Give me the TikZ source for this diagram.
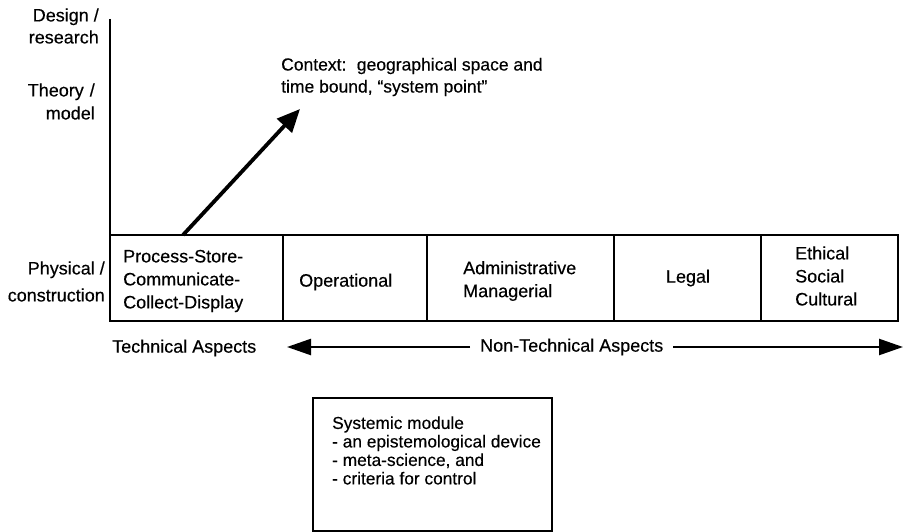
\documentclass[tikz,border=0pt]{standalone}
\usepackage{fontspec}
\setmainfont{Liberation Sans}[FakeBold=0.35]
\usetikzlibrary{arrows.meta}
\begin{document}
\begin{tikzpicture}[x=1pt,y=-1pt,
  txt/.style={font=\fontsize{18}{23}\selectfont, inner sep=0pt, align=left},
  cell/.style={draw, line width=2.4pt, inner sep=0pt, outer sep=0pt, minimum height=86pt, anchor=north west},
  thick arrow/.style={line width=3.8pt, -{Triangle[length=23pt,width=20pt]}},
  aspect arrow/.style={line width=2.4pt, -{Triangle[length=24pt,width=16pt]}}
]
\useasboundingbox (0,0) rectangle (904,532);

% row of aspect boxes
\node[cell, minimum width=173pt] (b1) at (110,235) {};
\node[cell, minimum width=144pt] (b2) at (b1.north east) {};
\node[cell, minimum width=187pt] (b3) at (b2.north east) {};
\node[cell, minimum width=147pt] (b4) at (b3.north east) {};
\node[cell, minimum width=137pt] (b5) at (b4.north east) {};

% vertical axis
\coordinate (axtop) at (110,19);
\draw[line width=2.8pt] (axtop) -- (b1.south west);

% box texts
\node[txt, anchor=west] (t1) at (123,281) {Process-Store-\\Communicate-\\Collect-Display};
\node[txt, anchor=west] (t2) at (299,282) {Operational};
\node[txt, anchor=west] (t3) at (463,281) {Administrative\\Managerial};
\node[txt] (t4) at (688,278) {Legal};
\node[txt, anchor=west] (t5) at (795,276) {Ethical\\Social\\Cultural};

% axis labels
\node[txt, align=right, anchor=east, font=\fontsize{18}{22}\selectfont] (l1) at (99,26) {Design /\hspace{7pt}\\research};
\node[txt, align=right, anchor=east, font=\fontsize{18}{23}\selectfont] (l2) at (95,101.5) {Theory\hspace{6pt}/\hspace{3pt}\\model};
\node[txt, align=right, anchor=east, font=\fontsize{18}{27}\selectfont] (l3) at (105,281.5) {Physical /\\construction\hspace{5pt}};

% context
\node[txt, anchor=west, font=\fontsize{17.5}{22}\selectfont] (ctx) at (281,77) {Context:\hspace{4pt} geographical space and\\time bound, \textquotedblleft system point\textquotedblright};
\coordinate (ctxbase) at ([xshift=73pt]b1.north west);
\coordinate (ctxtip) at (300,109);
\draw[thick arrow] (ctxbase) -- (ctxtip);

% aspects
\node[txt, anchor=west] (tech) at (112,348) {Technical Aspects};
\node[txt, anchor=west, inner xsep=10pt] (nontech) at (470,347) {Non-Technical Aspects};
\coordinate (ltip) at (287,347);
\coordinate (rtip) at (903,347);
\draw[aspect arrow] (nontech.west) -- (ltip);
\draw[aspect arrow] (nontech.east) -- (rtip);

% systemic module
\node[draw, line width=2.4pt, inner sep=0pt, outer sep=0pt, minimum width=239pt, minimum height=133pt, anchor=north west] (sys) at (313,398) {};
\node[txt, anchor=west, font=\fontsize{17.3}{18.5}\selectfont] (systxt) at (332,450.5) {Systemic module\\- an epistemological device\\- meta-science, and\\- criteria for control};
\end{tikzpicture}
\end{document}
